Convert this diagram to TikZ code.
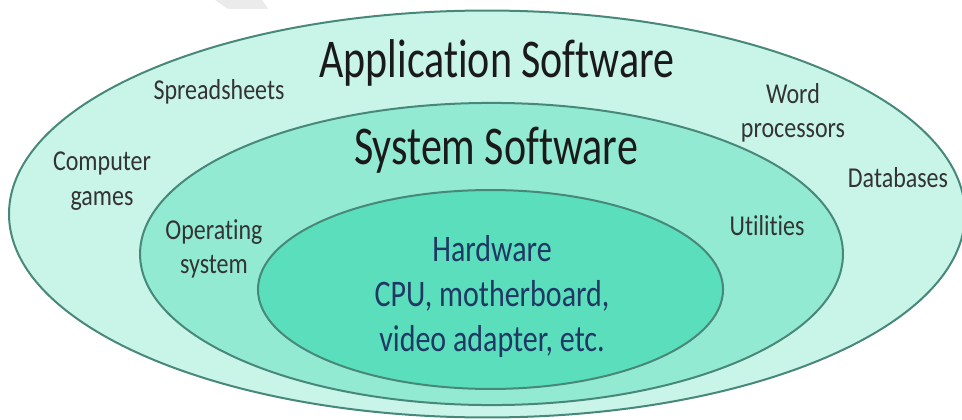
\documentclass[tikz,border=0pt]{standalone}
\usepackage{fontspec}
\setmainfont{Carlito}[Ligatures=NoCommon]
\definecolor{outerfill}{HTML}{C8F5E7}
\definecolor{midfill}{HTML}{93EAD2}
\definecolor{innerfill}{HTML}{5ADEBB}
\definecolor{ringline}{HTML}{47887A}
\definecolor{titlecol}{HTML}{1A1A1A}
\definecolor{itemcol}{HTML}{333333}
\definecolor{hwcol}{HTML}{1F3864}
\begin{document}
\begin{tikzpicture}[x=0.75pt,y=-0.75pt,
  ring/.style={draw=ringline, line width=1.5pt},
  bigtitle/.style={font=\fontsize{31.5}{36}\selectfont, text=titlecol, yscale=1.3, inner sep=0pt, anchor=base},
  itemtext/.style={font=\fontsize{18}{21.6}\selectfont, text=itemcol, align=center, yscale=1.2, inner sep=0pt},
  hwtext/.style={font=\fontsize{22.5}{27}\selectfont, text=hwcol, align=center, yscale=1.25, inner sep=0pt}]
  \useasboundingbox (0,0) rectangle (962,420);
  % faint grey band at the top edge
  \fill[black!8] (215,0) -- (262,0) -- (268,9) -- (228,9) -- cycle;
  % nested layers
  \coordinate (oc) at (487,214);
  \coordinate (mc) at (491.5,254);
  \coordinate (ic) at (490.5,289.5);
  \filldraw[ring, fill=outerfill] (oc) ellipse [x radius=358.5pt, y radius=152.6pt];
  \filldraw[ring, fill=midfill] (mc) ellipse [x radius=263.6pt, y radius=113.3pt];
  \filldraw[ring, fill=innerfill] (ic) ellipse [x radius=174.4pt, y radius=74.6pt];
  % layer titles
  \node[bigtitle] (app) at (497,78) {Application Software};
  \node[bigtitle] (sys) at (496,165) {System Software};
  % application examples
  \node[itemtext, anchor=base] (sheets) at (219,100) {Spreadsheets};
  \node[itemtext] (games) at (102,181) {Computer\\games};
  \node[itemtext] (word) at (793,113) {Word\\processors};
  \node[itemtext, anchor=base] (db) at (898,188) {Databases};
  % system examples
  \node[itemtext] (os) at (214,249) {Operating\\system};
  \node[itemtext, anchor=base] (util) at (767,235) {Utilities};
  % hardware core
  \node[hwtext] (hw) at (492,297) {Hardware\\CPU, motherboard,\\video adapter, etc.};
\end{tikzpicture}
\end{document}
